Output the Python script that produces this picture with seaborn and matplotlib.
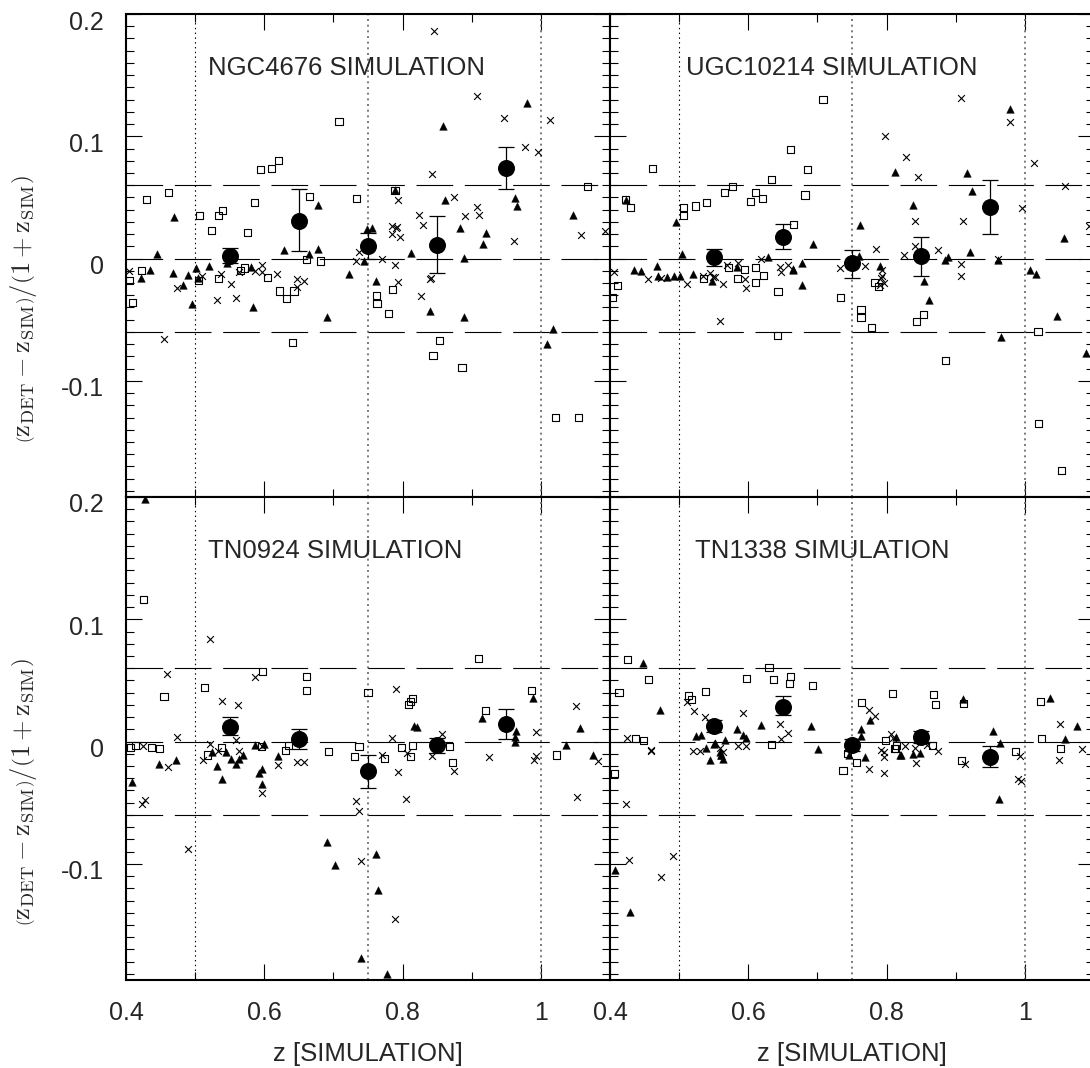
import numpy as np
import pandas as pd
import matplotlib
matplotlib.use("Agg")
import matplotlib.pyplot as plt
import matplotlib.transforms as mtransforms
from matplotlib.ticker import MultipleLocator, FixedLocator
import seaborn as sns

# ---------------- data ----------------
panel_titles = ["NGC4676 SIMULATION", "UGC10214 SIMULATION",
                "TN0924 SIMULATION", "TN1338 SIMULATION"]

bin_x = [0.55, 0.65, 0.75, 0.85, 0.95]

# NGC4676
ngc_sq_x = [0.430, 0.461, 0.506, 0.534, 0.539, 0.524, 0.594, 0.611, 0.620, 0.586, 0.576, 0.708, 0.665, 0.661, 0.681, 0.734, 0.789, 1.067,
            0.423, 0.405, 0.410, 0.505, 0.534, 0.565, 0.572, 0.604, 0.622, 0.632, 0.643, 0.641, 0.762, 0.763, 0.785, 0.779, 0.853, 0.844, 0.886, 1.021, 1.054]
ngc_sq_y = [0.0485, 0.054, 0.035, 0.035, 0.039, 0.023, 0.073, 0.074, 0.080, 0.046, 0.021, 0.112, 0.051, -0.001, -0.002, 0.049, 0.056, 0.059,
            -0.0096, -0.018, -0.036, -0.018, -0.016, -0.0096, -0.0077, -0.0156, -0.0265, -0.033, -0.0265, -0.069, -0.030, -0.037, -0.025, -0.045, -0.067, -0.079, -0.089, -0.130, -0.130]
ngc_tr_x = [0.470, 0.445, 0.629, 0.677, 0.677, 0.665, 0.748, 0.756, 0.744, 0.789, 0.859, 0.980, 0.862, 0.963, 0.965, 1.047, 0.883, 0.921, 0.917, 0.812, 0.889,
            0.434, 0.422, 0.468, 0.483, 0.490, 0.501, 0.504, 0.520, 0.496, 0.584, 0.581, 0.546, 0.723, 0.691, 0.762, 0.839, 0.889, 1.017, 1.009]
ngc_tr_y = [0.034, 0.0035, 0.007, 0.044, 0.0076, 0.0035, 0.024, 0.025, -0.002, 0.056, 0.1085, 0.127, 0.0475, 0.0496, 0.043, 0.0357, 0.025, 0.021, 0.012, 0.0046, 0.0005,
            -0.0096, -0.0156, -0.012, -0.022, -0.0137, -0.0074, -0.0156, -0.0063, -0.0374, -0.040, -0.0069, -0.0036, -0.0128, -0.048, -0.018, -0.043, -0.048, -0.058, -0.0696]
ngc_cr_x = [0.793, 0.784, 0.790, 0.733, 0.770, 0.846, 0.907, 0.946, 1.013, 0.977, 0.996, 0.842, 0.874, 0.907, 0.911, 0.891, 0.824, 0.829, 0.784, 0.792, 0.796,
            0.961, 1.058, 1.093, 0.789, 0.841, 0.405, 0.474, 0.455, 0.510, 0.538, 0.552, 0.532, 0.559, 0.564, 0.586, 0.596, 0.596, 0.619, 0.647, 0.657, 0.647,
            0.737, 0.794, 0.826, 0.840]
ngc_cr_y = [0.048, 0.027, 0.025, -0.002, 0.0, 0.186, 0.133, 0.115, 0.113, 0.091, 0.087, 0.069, 0.050, 0.042, 0.036, 0.035, 0.036, 0.0275, 0.020, 0.026, 0.018,
            0.0144, 0.0196, 0.0226, -0.0055, -0.016, -0.0104, -0.0237, -0.066, -0.014, -0.0123, -0.021, -0.034, -0.032, -0.011, -0.010, -0.005, -0.011, -0.0128, -0.017, -0.018, -0.023,
            0.005, -0.019, -0.031, -0.017]
ngc_bin_y = [0.002, 0.031, 0.010, 0.011, 0.074]
ngc_bin_hi = [0.009, 0.057, 0.021, 0.035, 0.091]
ngc_bin_lo = [-0.004, 0.006, 0.000, -0.012, 0.057]

# UGC10214
ugc_sq_x = [0.461, 0.423, 0.430, 0.506, 0.506, 0.524, 0.540, 0.565, 0.577, 0.603, 0.611, 0.620, 0.633, 0.708, 0.661, 0.686, 0.682, 0.665,
            0.594, 0.585, 0.611, 0.622, 0.571, 0.411, 0.404, 0.535, 0.611, 0.643, 0.642, 0.734, 0.763, 0.763, 0.778, 0.783, 0.788, 0.843, 0.853, 0.885, 1.019, 1.020, 1.053]
ugc_sq_y = [0.074, 0.048, 0.042, 0.042, 0.035, 0.043, 0.0455, 0.054, 0.059, 0.047, 0.054, 0.049, 0.065, 0.130, 0.089, 0.073, 0.052, 0.028,
            -0.009, -0.016, -0.007, -0.014, -0.007, -0.022, -0.032, -0.016, -0.0196, -0.027, -0.063, -0.032, -0.042, -0.048, -0.0565, -0.0196, -0.023, -0.0516, -0.0456, -0.083, -0.0595, -0.135, -0.173]
ugc_tr_x = [0.423, 0.496, 0.504, 0.434, 0.445, 0.468, 0.470, 0.483, 0.492, 0.501, 0.520, 0.583, 0.629, 0.812, 0.916, 0.979, 0.923, 0.838, 0.762, 0.693,
            0.677, 0.664, 0.790, 0.889, 0.884, 0.920, 0.961, 1.008, 1.016, 1.056, 0.547, 0.665, 0.677, 0.862, 0.854, 0.965, 1.047, 1.089, 0.760]
ugc_tr_y = [0.048, 0.030, 0.004, -0.0096, -0.010, -0.006, -0.014, -0.015, -0.014, -0.014, -0.013, -0.007, 0.001, 0.071, 0.070, 0.122, 0.0556, 0.044, 0.0275, 0.0115,
            -0.004, -0.0085, -0.006, 0.001, -0.0014, 0.005, -0.0014, -0.009, -0.013, 0.017, -0.018, -0.009, -0.022, -0.0336, -0.018, -0.064, -0.047, -0.077, 0.002]
ugc_cr_x = [0.406, 0.455, 0.535, 0.549, 0.569, 0.585, 0.619, 0.907, 0.978, 0.798, 0.828, 0.845, 1.013, 1.058, 0.996, 1.093, 0.841, 0.910, 0.784, 0.874,
            0.841, 0.825, 0.769, 0.732, 0.907, 0.907, 0.793, 0.793, 0.646, 0.658, 0.545, 0.552, 0.474, 0.511, 0.563, 0.559, 0.595, 0.596, 0.647, 0.792,
            0.796, 0.790, 0.961]
ugc_cr_y = [-0.011, -0.017, -0.0145, -0.015, -0.0055, -0.004, 0.0, 0.131, 0.112, 0.100, 0.083, 0.067, 0.078, 0.059, 0.041, 0.027, 0.031, 0.0305, 0.008, 0.0073,
            0.010, 0.0027, -0.006, -0.008, -0.0047, -0.0145, -0.0096, -0.014, -0.007, -0.0055, -0.012, -0.015, -0.016, -0.021, -0.021, -0.051, -0.017, -0.024, -0.011, -0.016,
            -0.020, -0.022, -0.0006]
ugc_bin_y = [0.001, 0.018, -0.004, 0.002, 0.042]
ugc_bin_hi = [0.008, 0.028, 0.007, 0.018, 0.064]
ugc_bin_lo = [-0.006, 0.008, -0.016, -0.014, 0.020]

# TN0924
tn9_sq_x = [0.425, 0.455, 0.513, 0.598, 0.661, 0.661, 0.750, 0.406, 0.414, 0.437, 0.449, 0.693, 0.737, 0.731, 0.631, 0.538, 0.518, 0.635, 0.774, 0.798,
            0.811, 0.814, 0.868, 0.872, 1.023, 0.910, 0.811, 0.815, 0.809, 0.920, 0.987, 0.596]
tn9_sq_y = [0.116, 0.037, 0.044, 0.0575, 0.053, 0.0417, 0.040, -0.005, -0.003, -0.005, -0.006, -0.008, -0.004, -0.012, -0.007, -0.005, -0.011, -0.0035, -0.014, -0.005,
            -0.012, -0.003, -0.0038, -0.017, -0.011, 0.068, 0.033, 0.035, 0.030, 0.0256, 0.0417, -0.004]
tn9_tr_x = [0.428, 0.586, 0.408, 0.448, 0.473, 0.525, 0.532, 0.539, 0.544, 0.552, 0.559, 0.564, 0.569, 0.593, 0.597, 0.597, 0.620, 0.690, 0.702, 0.762,
            0.764, 0.740, 0.778, 0.962, 1.037, 1.076, 0.817, 0.821, 0.915, 0.989, 0.964, 0.962, 1.057, 0.600]
tn9_tr_y = [0.198, -0.003, -0.033, -0.0186, -0.0147, -0.0085, -0.020, -0.031, -0.0085, -0.014, -0.018, -0.014, -0.011, -0.026, -0.0226, -0.035, -0.0117, -0.082, -0.1006, -0.092,
            -0.121, -0.1774, -0.190, 0.0, -0.003, -0.011, 0.0125, 0.0117, 0.019, 0.036, 0.0087, 0.004, 0.0114, -0.002]
tn9_cr_x = [0.522, 0.459, 0.586, 0.539, 0.562, 0.791, 0.474, 0.425, 0.522, 0.784, 0.461, 0.423, 0.428, 0.490, 0.512, 0.533, 0.559, 0.563, 0.597, 0.620,
            0.647, 0.658, 0.733, 0.737, 0.740, 0.789, 0.770, 0.794, 0.805, 0.806, 0.842, 0.875, 0.925, 0.990, 0.993, 1.083, 1.052, 0.857, 0.993, 1.051, 0.596]
tn9_cr_y = [0.084, 0.0556, 0.053, 0.033, 0.030, 0.043, 0.004, -0.0035, -0.0016, 0.003, -0.021, -0.051, -0.048, -0.0875, -0.015, -0.008, 0.001, -0.008, -0.0417, -0.019,
            -0.0166, -0.0166, -0.0485, -0.0567, -0.098, -0.145, -0.011, -0.025, -0.0466, -0.009, -0.012, -0.024, -0.013, -0.015, -0.012, -0.016, -0.045, 0.0065, 0.008, 0.029, -0.004]
tn9_bin_y = [0.012, 0.002, -0.024, -0.003, 0.014]
tn9_bin_hi = [0.020, 0.010, -0.011, 0.003, 0.027]
tn9_bin_lo = [0.005, -0.006, -0.038, -0.009, 0.002]

# TN1338
tn13_sq_x = [0.425, 0.456, 0.413, 0.513, 0.518, 0.538, 0.597, 0.630, 0.636, 0.437, 0.449, 0.634, 0.661, 0.660, 0.693, 0.808, 0.868, 0.871, 0.764, 0.798,
             0.814, 0.813, 0.866, 0.911, 1.022, 1.024, 1.051, 0.987, 0.407, 0.737, 0.756, 0.744, 0.812, 0.909]
tn13_sq_y = [0.0668, 0.051, 0.0398, 0.038, 0.0346, 0.0406, 0.0515, 0.0605, 0.0507, 0.0024, 0.0006, -0.0024, 0.053, 0.0474, 0.0456, 0.039, 0.0387, 0.0305, 0.032, 0.001,
             -0.003, -0.0057, -0.003, 0.031, 0.033, 0.0025, -0.0057, -0.0085, -0.026, -0.024, -0.017, -0.0098, -0.0057, -0.0158]
tn13_tr_x = [0.448, 0.473, 0.524, 0.531, 0.567, 0.584, 0.593, 0.597, 0.619, 0.551, 0.559, 0.561, 0.690, 0.701, 0.776, 0.763, 0.763, 0.814, 0.819, 0.838,
             0.911, 0.954, 0.964, 1.037, 1.075, 1.058, 0.407, 0.429, 0.539, 0.545, 0.552, 0.560, 0.563, 0.745, 0.769, 0.821, 0.848, 0.963]
tn13_tr_y = [0.0646, 0.026, 0.0043, 0.0057, 0.0016, 0.010, 0.005, 0.003, 0.0133, -0.0016, -0.0085, -0.011, 0.0128, -0.006, 0.018, 0.010, 0.0047, 0.0038, -0.011, -0.0098,
             0.035, 0.0084, -0.001, 0.036, 0.0125, 0.0025, -0.105, -0.139, -0.005, -0.015, -0.001, -0.011, -0.014, -0.0106, -0.013, -0.0106, -0.009, -0.0466]
tn13_cr_x = [0.512, 0.521, 0.538, 0.593, 0.425, 0.460, 0.585, 0.597, 0.520, 0.530, 0.5585, 0.563, 0.646, 0.658, 0.647, 0.774, 0.783, 0.806, 0.809, 0.826,
             0.792, 0.841, 0.858, 0.874, 0.993, 1.051, 1.083, 0.423, 0.428, 0.474, 0.491, 0.459, 0.775, 0.796, 0.796, 0.796, 0.842, 0.913, 0.990, 0.995, 1.050]
tn13_cr_y = [0.032, 0.025, 0.020, 0.023, 0.003, -0.0076, -0.004, -0.004, -0.0076, -0.008, -0.005, -0.0085, 0.014, 0.007, 0.0019, 0.026, 0.0207, 0.0065, 0.003, -0.0038,
             -0.007, -0.005, -0.003, -0.008, -0.012, 0.014, -0.0057, -0.051, -0.097, -0.111, -0.094, -0.007, -0.0226, -0.026, -0.0085, -0.013, -0.0174, -0.018, -0.031, -0.032, -0.015]
tn13_bin_y = [0.013, 0.028, -0.003, 0.004, -0.0125]
tn13_bin_hi = [0.018, 0.037, 0.002, 0.009, -0.004]
tn13_bin_lo = [0.008, 0.022, -0.008, -0.001, -0.021]

panels = [
    (ngc_sq_x, ngc_sq_y, ngc_tr_x, ngc_tr_y, ngc_cr_x, ngc_cr_y, ngc_bin_y, ngc_bin_hi, ngc_bin_lo),
    (ugc_sq_x, ugc_sq_y, ugc_tr_x, ugc_tr_y, ugc_cr_x, ugc_cr_y, ugc_bin_y, ugc_bin_hi, ugc_bin_lo),
    (tn9_sq_x, tn9_sq_y, tn9_tr_x, tn9_tr_y, tn9_cr_x, tn9_cr_y, tn9_bin_y, tn9_bin_hi, tn9_bin_lo),
    (tn13_sq_x, tn13_sq_y, tn13_tr_x, tn13_tr_y, tn13_cr_x, tn13_cr_y, tn13_bin_y, tn13_bin_hi, tn13_bin_lo),
]

x_ticks = [0.4, 0.6, 0.8, 1.0]
x_ticklabels = ["0.4", "0.6", "0.8", "1"]
y_ticks = [-0.1, 0.0, 0.1, 0.2]
y_ticklabels = ["-0.1", "0", "0.1", "0.2"]
h_lines = [-0.06, 0.0, 0.06]
v_lines = [0.5, 0.75, 1.0]

# ---------------- style ----------------
sns.set_theme(style="ticks")
plt.rcParams['font.family'] = ['Liberation Sans', 'DejaVu Sans']
plt.rcParams['mathtext.fontset'] = 'cm'
plt.rcParams['axes.unicode_minus'] = False

W, H = 1090, 1068
fig = plt.figure(figsize=(W / 100, H / 100), dpi=100)

pw, ph = 484, 483
lefts = [126, 610]
tops = [14, 497]
title_x = [0.169, 0.158, 0.169, 0.176]

dash = (0, (33.0, 10.5))
label_shift = mtransforms.ScaledTranslation(0, -6 / 100, fig.dpi_scale_trans)

for i in range(4):
    r, c = divmod(i, 2)
    l = lefts[c]
    t = tops[r]
    ax = fig.add_axes([l / W, (H - t - ph) / H, pw / W, ph / H])
    sq_x, sq_y, tr_x, tr_y, cr_x, cr_y, b_y, b_hi, b_lo = panels[i]

    ax.set_xlim(0.4, 1.1)
    ax.set_ylim(-0.195, 0.2)

    for yv in h_lines:
        ax.axhline(yv, color='black', lw=0.8, ls=dash, zorder=1)
    for j, xv in enumerate(v_lines):
        if j == 0:
            ax.axvline(xv, color='black', lw=0.8, ls=(0, (1.3, 3.0)), zorder=1)
        else:
            ax.axvline(xv, color='0.4', lw=1.2, ls=(0, (1.2, 2.2)), zorder=1)

    sns.scatterplot(x=sq_x, y=sq_y, marker='s', s=26, facecolors='none',
                    edgecolors='black', linewidth=0.8, ax=ax, zorder=3)
    sns.scatterplot(x=tr_x, y=tr_y, marker='^', s=30, color='black',
                    edgecolor='black', linewidth=0.3, ax=ax, zorder=3)
    sns.scatterplot(x=cr_x, y=cr_y, marker='x', s=24, color='black',
                    linewidth=0.8, ax=ax, zorder=3)

    by = np.array(b_y)
    yerr = [by - np.array(b_lo), np.array(b_hi) - by]
    ax.errorbar(bin_x, b_y, yerr=yerr, fmt='none', ecolor='black',
                elinewidth=0.9, capsize=6, capthick=0.9, zorder=4)
    sns.scatterplot(x=bin_x, y=b_y, marker='o', s=150, color='black',
                    edgecolor='black', linewidth=0, ax=ax, zorder=5)

    ax.text(title_x[i], 0.889, panel_titles[i], transform=ax.transAxes,
            ha='left', va='center', fontsize=18.5)

    for s in ax.spines.values():
        s.set_linewidth(1.5)
        s.set_visible(True)
        s.set_color('black')

    ax.xaxis.set_major_locator(FixedLocator(x_ticks))
    ax.xaxis.set_minor_locator(MultipleLocator(0.1))
    ax.yaxis.set_major_locator(FixedLocator(y_ticks))
    ax.yaxis.set_minor_locator(MultipleLocator(0.01))
    ax.tick_params(which='both', direction='in', top=True, right=True,
                   bottom=True, left=True, color='black', width=0.8)
    ax.tick_params(which='major', length=11.5)
    ax.tick_params(which='minor', length=5.8)
    ax.tick_params(axis='x', which='major', pad=15, labelsize=18)
    ax.tick_params(axis='y', which='major', pad=16, labelsize=18)

    if r == 1:
        ax.set_xticklabels(x_ticklabels)
        ax.set_xlabel("z [SIMULATION]", fontsize=18.5, labelpad=12)
    else:
        ax.set_xticklabels([])
    if c == 0:
        ax.set_yticklabels(y_ticklabels)
        for lab in ax.get_yticklabels():
            lab.set_transform(lab.get_transform() + label_shift)
        ax.set_ylabel(r'$\left(\mathrm{z_{DET}-z_{SIM}}\right)/\left(1+\mathrm{z_{SIM}}\right)$',
                      fontsize=19)
        ax.yaxis.set_label_coords(-0.18, 0.39)
    else:
        ax.set_yticklabels([])
    ax.grid(False)

fig.savefig("out.png", dpi=100)
